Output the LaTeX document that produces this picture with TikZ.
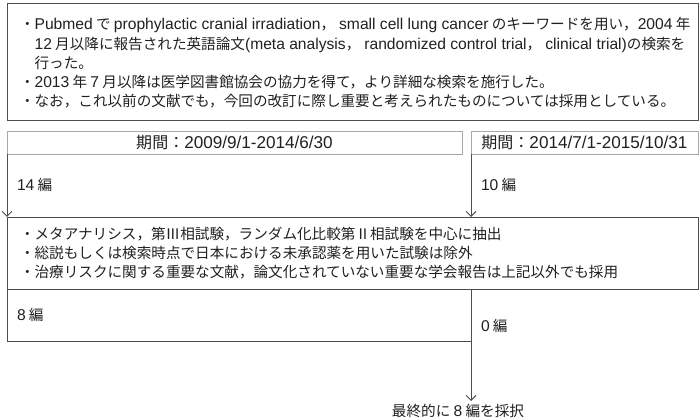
\documentclass[tikz,border=0pt]{standalone}
\usepackage{fontspec}
\setmainfont{Noto Sans CJK JP}
\newfontfamily\enfont[Scale=1.07]{Liberation Sans}
\newcommand\en[1]{{\enfont #1}}
\newcommand\cm{，\hspace{4pt}}
\usetikzlibrary{arrows.meta}
\definecolor{ink}{HTML}{231F20}
\definecolor{lineg}{HTML}{4D4D4D}
\definecolor{hdrg}{HTML}{A8A8A8}

\begin{document}
\begin{tikzpicture}[x=1pt,y=-1pt,
  every node/.style={text=ink,font=\fontsize{14.6}{19.2}\selectfont,outer sep=0pt},
  box/.style={draw=lineg,line width=0.9pt,anchor=north west,inner sep=0pt},
  hdr/.style={draw=hdrg,line width=0.9pt,anchor=north west,inner sep=0pt,minimum height=23pt,
    font=\fontsize{16}{19}\selectfont},
  body/.style={anchor=west,align=left,inner sep=0pt,xshift=13pt},
  num/.style={right,inner sep=0pt,xshift=10pt},
  link/.style={draw=lineg,line width=0.9pt},
  arr/.style={link,-{Straight Barb[length=5pt,width=10pt]}}]
\useasboundingbox (0,0) rectangle (700,419);

\node[box,minimum width=691pt,minimum height=117pt] (search) at (7,3) {};
\node[body,yshift=-1.5pt] (searchtxt) at (search.west) {%
・\en{Pubmed} で \en{prophylactic cranial irradiation}\cm\en{small cell lung cancer} のキーワードを用い，\en{2004} 年\\
\phantom{・}\en{12} 月以降に報告された英語論文\en{(meta analysis}\cm\en{randomized control trial}\cm\en{clinical trial)}の検索を\\
\phantom{・}行った。\\
・\en{2013} 年 \en{7} 月以降は医学図書館協会の協力を得て，より詳細な検索を施行した。\\
・なお，これ以前の文献でも，今回の改訂に際し重要と考えられたものについては採用としている。};

\node[hdr,minimum width=455pt] (p1) at (7,131) {期間：\en{2009/9/1-2014/6/30}};
\node[hdr,minimum width=227pt] (p2) at (471,131) {期間：\en{2014/7/1-2015/10/31}};

\node[box,minimum width=691pt,minimum height=72pt] (crit) at (7,217) {};
\node[body] (crittxt) at (crit.west) {%
・メタアナリシス，第Ⅲ相試験，ランダム化比較第Ⅱ相試験を中心に抽出\\
・総説もしくは検索時点で日本における未承認薬を用いた試験は除外\\
・治療リスクに関する重要な文献，論文化されていない重要な学会報告は上記以外でも採用};

\node[anchor=north] (final) at (458,401) {最終的に \en{8} 編を採択};

\coordinate (mid) at (p2.south west |- crit.south);
\coordinate (b8) at (7,341);

\draw[arr] (p1.south west) -- node[num,pos=.49] {\en{14} 編} (crit.north west);
\draw[arr] (p2.south west) -- node[num,pos=.49] {\en{10} 編} (p2.south west |- crit.north);
\draw[link] (crit.south west) -- node[num,pos=.5] (n8) {\en{8} 編} (b8) -- (b8 -| mid);
\draw[arr] (mid) -- node[num,pos=.33] {\en{0} 編} (mid |- final.north);
\end{tikzpicture}
\end{document}
